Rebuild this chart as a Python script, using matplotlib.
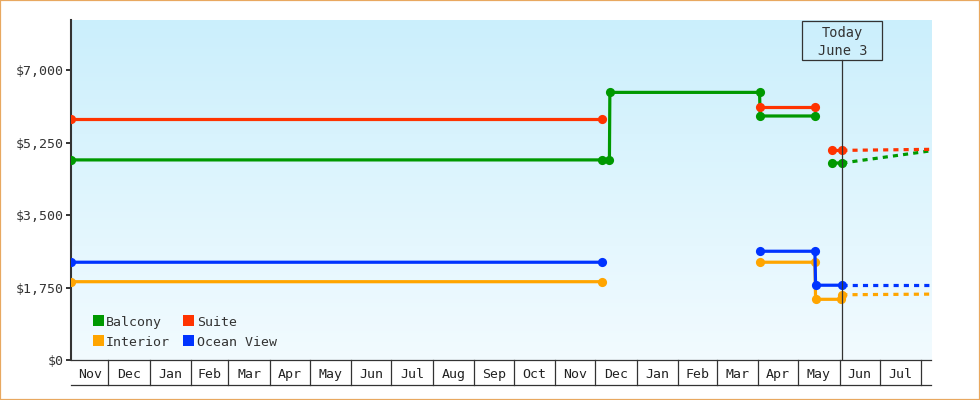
import matplotlib
matplotlib.use("Agg")
import matplotlib.pyplot as plt
import matplotlib.dates as mdates
from matplotlib.patches import Rectangle
from matplotlib.lines import Line2D
import numpy as np
import pandas as pd

plt.rcParams['font.family'] = ['DejaVu Sans Mono', 'DejaVu Sans']

# ---------------- data ----------------
x_start = "2022-11-03"
x_end = "2024-08-08 12:00"
today = "2024-06-03"
today_lines = ["Today", "June 3"]

month_labels = ["Nov", "Dec", "Jan", "Feb", "Mar", "Apr", "May", "Jun", "Jul",
                "Aug", "Sep", "Oct", "Nov", "Dec", "Jan", "Feb", "Mar", "Apr",
                "May", "Jun", "Jul", ""]

y_ticks = [0, 1750, 3500, 5250, 7000]
y_tick_labels = ["$0", "$1,750", "$3,500", "$5,250", "$7,000"]
y_max = 8207

series_names = ["Balcony", "Suite", "Interior", "Ocean View"]
series_colors = ["#009900", "#ff3300", "#ffa500", "#0033ff"]

nan = float("nan")

balcony_dates = ["2022-11-03", "2023-12-06", "2023-12-11 12:00", "2023-12-11 20:00",
                 "2024-04-02", "2024-04-02 12:00", "2024-05-13 12:00",
                 "2024-05-20", "2024-05-26", "2024-06-03"]
balcony_prices = [4830, 4830, 4830, 6460, 6460, 5890, 5890, nan, 4755, 4755]

suite_dates = ["2022-11-03", "2023-12-06", "2024-02-01", "2024-04-02 12:00",
               "2024-05-13 12:00", "2024-05-20", "2024-05-26", "2024-06-03"]
suite_prices = [5810, 5810, nan, 6100, 6100, nan, 5060, 5060]

interior_dates = ["2022-11-03", "2023-12-06", "2024-02-01", "2024-04-02 12:00",
                  "2024-05-13 12:00", "2024-05-14", "2024-06-02", "2024-06-03"]
interior_prices = [1890, 1890, nan, 2360, 2360, 1465, 1465, 1575]

oceanview_dates = ["2022-11-03", "2023-12-06", "2024-02-01", "2024-04-02 12:00",
                   "2024-05-13 12:00", "2024-05-14", "2024-06-03"]
oceanview_prices = [2360, 2360, nan, 2625, 2625, 1805, 1805]

forecast_dates = [today, x_end]
balcony_forecast = [4755, 5050]
suite_forecast = [5060, 5085]
interior_forecast = [1575, 1590]
oceanview_forecast = [1805, 1805]

all_dates = [balcony_dates, suite_dates, interior_dates, oceanview_dates]
all_prices = [balcony_prices, suite_prices, interior_prices, oceanview_prices]
all_forecast = [balcony_forecast, suite_forecast, interior_forecast, oceanview_forecast]


def to_dt(values):
    return pd.to_datetime(values, format="ISO8601")


# ---------------- figure ----------------
W, H = 980, 400
fig = plt.figure(figsize=(W / 100, H / 100), dpi=100)
fig.patch.set_facecolor("white")


def fx(px):
    return px / W


def fy(py):
    return 1 - py / H


ax = fig.add_axes([fx(71), fy(360), 860 / W, 340 / H])
ax.set_facecolor("none")

x0 = pd.Timestamp(x_start)
x1 = pd.Timestamp(x_end)

# gradient background
grad = np.linspace(0, 1, 256).reshape(-1, 1)
top_c = np.array([0xcb, 0xef, 0xfc]) / 255
bot_c = np.array([0xf2, 0xfb, 0xff]) / 255
img = top_c[None, None, :] * (1 - grad[:, :, None]) + bot_c[None, None, :] * grad[:, :, None]
ax.imshow(img, extent=[0, 1, 0, 1], transform=ax.transAxes, aspect="auto", zorder=0)

lw = 2.3
ms = 6.6
for name, color, d, p, fc in zip(series_names, series_colors, all_dates, all_prices, all_forecast):
    ax.plot(to_dt(d), p, color=color, lw=lw, marker="o", ms=ms,
            markeredgewidth=0, solid_capstyle="butt", zorder=3)
    ax.plot(to_dt(forecast_dates), fc, color=color, lw=lw,
            linestyle=(0, (1.6, 1.6)), dash_capstyle="butt", zorder=2)

ax.set_xlim(x0, x1)
ax.set_ylim(0, y_max)

# axes styling
for s in ["top", "right", "bottom"]:
    ax.spines[s].set_visible(False)
ax.spines["left"].set_color("#333333")
ax.spines["left"].set_linewidth(1.5)
ax.set_yticks(y_ticks)
ax.set_yticklabels(y_tick_labels)
ax.tick_params(axis="y", length=3.6, width=1.4, color="#333333", pad=1.8,
               labelsize=9.5, labelcolor="#333333")
ax.set_xticks([])

# month band
xtr = ax.get_xaxis_transform()
band = -25 / 340
month_starts = list(pd.date_range(x0 + pd.offsets.MonthBegin(1), x1, freq="MS"))
bounds = [x0] + month_starts + [x1]
band_color = "#333333"
ax.add_line(Line2D([0, 1], [0, 0], transform=ax.transAxes, color=band_color, lw=0.9, clip_on=False, zorder=5))
ax.add_line(Line2D([0, 1], [band, band], transform=ax.transAxes, color=band_color, lw=0.9, clip_on=False, zorder=5))
for m in month_starts:
    ax.add_line(Line2D([m, m], [0, band], transform=xtr, color=band_color, lw=0.9, clip_on=False))
base = -18.0 / 340
for a, b, lab in zip(bounds[:-1], bounds[1:], month_labels):
    c = a + (b - a) / 2
    ax.text(c, base, lab, transform=xtr, ha="center", va="baseline",
            fontsize=9.5, color="#222222", clip_on=False)

# today marker
tnum = mdates.date2num(pd.Timestamp(today))
ax.axvline(pd.Timestamp(today), ymin=0, ymax=(360 - 60.3) / 340, color="#333333", lw=0.9, zorder=4)
fig.canvas.draw()
tx = ax.transData.transform((tnum, 0))[0]
fig.patches.append(Rectangle((fx(tx - 39.8), fy(60.3)), 79.6 / W, 39.6 / H,
                             transform=fig.transFigure, fill=False,
                             edgecolor="#333333", lw=0.9))
fig.text(fx(tx), fy(37.3), today_lines[0], ha="center", va="baseline", fontsize=9.8, color="#333333")
fig.text(fx(tx), fy(55.0), today_lines[1], ha="center", va="baseline", fontsize=9.8, color="#333333")

# legend (Balcony, Suite / Interior, Ocean View)
leg_pos = [(92.7, 315), (183.3, 315), (92.7, 335), (183.3, 335)]
for (px, py), name, color in zip(leg_pos, series_names, series_colors):
    fig.patches.append(Rectangle((fx(px), fy(py + 11)), 11 / W, 11 / H,
                                 transform=fig.transFigure, facecolor=color, edgecolor="none"))
    fig.text(fx(px + 13.5), fy(py + 11.2), name, ha="left", va="baseline",
             fontsize=9.5, color="#333333")

# outer border
fig.patches.append(Rectangle((0, 0), 1, 1, transform=fig.transFigure, fill=False,
                             edgecolor="#e8a860", lw=1.6))

fig.savefig("out.png", dpi=100)
